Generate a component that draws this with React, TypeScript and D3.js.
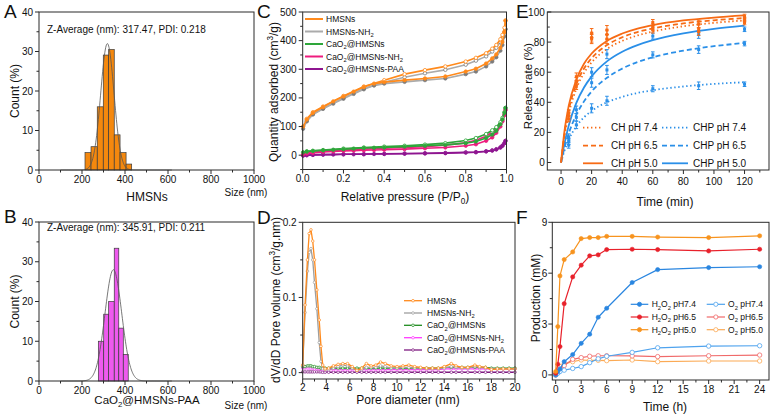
import React, { useEffect, useRef } from "react";
import * as d3 from "d3";

const FONT = "'Liberation Sans', Arial, Helvetica, sans-serif";
const AXIS = "#2a2a2a";

// ---------------- A: DLS of HMSNs ----------------
const aEdges = [214, 242, 271, 299, 324, 350, 377, 405, 431];
const aCounts = [4.4, 5.9, 16, 29.1, 30.5, 8.9, 4.4, 1.5];
const aFit = [32, 318, 31]; // amplitude, mean, sd
const aText = "Z-Average (nm): 317.47, PDI: 0.218";
const aName = "HMSNs";
// ---------------- B: DLS of CaO2@HMSNs-PAA ----------------
const bEdges = [276, 301, 324, 350, 371, 392, 415];
const bCounts = [10, 16.8, 20, 33.4, 13.3, 6.7];
const bFit = [28, 346, 39];
const bText = "Z-Average (nm): 345.91, PDI: 0.211";
const bName = "CaO_2@HMSNs-PAA";
const sizeTicks = [0, 200, 400, 600, 800, 1000];
const countTicks = [0, 10, 20, 30, 40];

// ---------------- C: N2 isotherms ----------------
const cNames = ["HMSNs", "HMSNs-NH_2", "CaO_2@HMSNs", "CaO_2@HMSNs-NH_2", "CaO_2@HMSNs-PAA"];
const cLineColors = ["#FF8A1C", "#ABABAB", "#2EA63A", "#EE1C7E", "#8E1590"];
const cMarkColors = ["#FF8A1C", "#7C7C7C", "#2EA63A", "#EE1C7E", "#8E1590"];
const cPads = [0.002, 0.02, 0.05, 0.1, 0.15, 0.2, 0.25, 0.3, 0.35, 0.4, 0.5, 0.6, 0.7, 0.8, 0.85, 0.9, 0.93, 0.95, 0.97, 0.98, 0.99, 0.995];
const cPdes = [0.995, 0.99, 0.98, 0.97, 0.95, 0.93, 0.9, 0.85, 0.8, 0.7, 0.6, 0.5, 0.4, 0.3, 0.2, 0.1, 0.05, 0.02];
const cAdsHMSNs = [100, 125, 148, 168, 188, 205, 222, 238, 250, 255, 262, 268, 275, 292, 302, 320, 338, 352, 375, 395, 430, 470];
const cDesHMSNs = [470, 445, 420, 405, 385, 372, 356, 340, 327, 310, 297, 283, 262, 240, 207, 170, 150, 127];
const cAdsNH2 = [92, 118, 142, 162, 180, 197, 214, 230, 243, 250, 256, 262, 268, 283, 292, 310, 327, 342, 365, 385, 415, 440];
const cDesNH2 = [440, 430, 410, 395, 375, 362, 345, 330, 316, 298, 286, 272, 255, 233, 200, 163, 144, 120];
const cAdsCa = [10, 13, 15, 17, 19, 21, 23, 25, 26, 27, 30, 33, 36, 42, 48, 60, 72, 85, 108, 125, 148, 165];
const cDesCa = [165, 150, 130, 115, 98, 87, 74, 60, 51, 42, 37, 33, 30, 27, 23, 18, 15, 13];
const cAdsCaNH2 = [3, 6, 8, 11, 13, 15, 16, 17, 18, 19, 21, 24, 27, 33, 38, 50, 62, 78, 100, 118, 140, 158];
const cDesCaNH2 = [158, 142, 122, 108, 92, 80, 66, 52, 43, 35, 30, 27, 24, 21, 18, 14, 10, 7];
const cAdsPAA = [-2, 0, 1, 2, 2, 3, 3, 3, 4, 4, 5, 6, 7, 9, 10, 13, 16, 20, 27, 33, 42, 50];
const cDesPAA = [50, 42, 33, 27, 21, 17, 14, 11, 10, 8, 7, 6, 5, 4, 3, 2, 1, 0];
const cXTicks = [0, 0.2, 0.4, 0.6, 0.8, 1.0];
const cYTicks = [0, 100, 200, 300, 400, 500];

// ---------------- D: pore size distribution ----------------
const dNames = cNames;
const dColors = ["#FF8A1C", "#9E9E9E", "#1E8C1E", "#FF3CFF", "#7E1A80"];
const dPore = [2.0, 2.2, 2.4, 2.55, 2.7, 2.85, 3.0, 3.2, 3.4, 3.55, 3.7, 3.9, 4.2, 4.6, 5.0, 5.4, 5.8, 6.2, 6.6, 7.0, 7.4, 7.8, 8.2, 8.6, 9.0, 9.5, 10.0, 10.5, 11.0, 11.5, 12.0, 12.5, 13.0, 13.5, 14.0, 14.6, 15.0, 15.5, 16.0, 16.6, 17.0, 17.5, 18.0, 18.5, 19.0, 19.5, 20.0];
const dHMSNs = [0.01, 0.09, 0.15, 0.185, 0.19, 0.175, 0.15, 0.11, 0.07, 0.035, 0.01, 0.005, 0.006, 0.009, 0.011, 0.012, 0.012, 0.008, 0.003, 0.006, 0.012, 0.009, 0.01, 0.014, 0.012, 0.009, 0.008, 0.009, 0.01, 0.008, 0.007, 0.006, 0.006, 0.006, 0.008, 0.012, 0.009, 0.007, 0.007, 0.01, 0.008, 0.007, 0.004, 0.005, 0.005, 0.005, 0.005];
const dNH2 = [0.01, 0.08, 0.135, 0.16, 0.165, 0.15, 0.12, 0.085, 0.04, 0.015, 0.005, 0.004, 0.004, 0.006, 0.008, 0.01, 0.009, 0.006, 0.003, 0.004, 0.007, 0.007, 0.007, 0.009, 0.008, 0.006, 0.006, 0.007, 0.007, 0.006, 0.006, 0.005, 0.005, 0.005, 0.006, 0.008, 0.007, 0.006, 0.006, 0.008, 0.007, 0.006, 0.005, 0.005, 0.005, 0.005, 0.005];
const dCa = [0.008, 0.008, 0.009, 0.009, 0.009, 0.008, 0.008, 0.007, 0.007, 0.006, 0.006, 0.006, 0.006, 0.006, 0.006, 0.006, 0.006, 0.006, 0.006, 0.006, 0.006, 0.006, 0.006, 0.006, 0.006, 0.006, 0.006, 0.006, 0.006, 0.006, 0.006, 0.006, 0.006, 0.006, 0.007, 0.007, 0.007, 0.007, 0.007, 0.007, 0.007, 0.007, 0.006, 0.006, 0.006, 0.006, 0.006];
const dCaNH2 = [0.006, 0.006, 0.006, 0.006, 0.006, 0.006, 0.005, 0.005, 0.005, 0.005, 0.004, 0.004, 0.004, 0.004, 0.004, 0.004, 0.004, 0.004, 0.004, 0.004, 0.004, 0.004, 0.004, 0.004, 0.004, 0.004, 0.004, 0.004, 0.004, 0.004, 0.004, 0.004, 0.004, 0.004, 0.005, 0.005, 0.005, 0.005, 0.005, 0.005, 0.005, 0.005, 0.005, 0.005, 0.005, 0.005, 0.005];
const dPAA = [0.001, 0.001, 0.001, 0.001, 0.001, 0.001, 0.001, 0.001, 0.001, 0.001, 0.0005, 0.0005, 0.0005, 0.0005, 0.0005, 0.0005, 0.0005, 0.0005, 0.0005, 0.0005, 0.0005, 0.0005, 0.0005, 0.0005, 0.0005, 0.0005, 0.0005, 0.0005, 0.0005, 0.0005, 0.0005, 0.0005, 0.0005, 0.0005, 0.0005, 0.0005, 0.0005, 0.0005, 0.0005, 0.0005, 0.0005, 0.0005, 0.0005, 0.0005, 0.0005, 0.0005, 0.0005];
const dXTicks = [2, 4, 6, 8, 10, 12, 14, 16, 18, 20];
const dYTicks = [0, 0.1, 0.2];

// ---------------- E: release ----------------
const eNames = ["CH pH 7.4", "CH pH 6.5", "CH pH 5.0", "CHP pH 7.4", "CHP pH 6.5", "CHP pH 5.0"];
const eTimes = [5, 10, 20, 30, 60, 90, 120];
const eCH74 = [29, 51, 82, 82, 88, 87, 93];
const eCH65 = [31, 54, 83, 85, 90, 89, 95];
const eCH50 = [33, 57, 86, 88, 93, 92, 97];
const eCHP74 = [11.5, 25, 36, 41, 49, 51, 52];
const eCHP65 = [14, 30, 53, 61.5, 71.5, 75, 79];
const eCHP50 = [17, 35, 60, 72, 84, 85, 88.5];
const eErr = [2, 2.5, 3, 3, 2, 2.5, 1.5];
const eFitT = [0, 2, 5, 10, 15, 20, 30, 40, 50, 60, 80, 100, 120];
const eFitCH74 = [0, 15.8, 32, 49, 59.4, 66.5, 75.4, 80.8, 84.4, 87, 90.5, 92.8, 94.4];
const eFitCH65 = [0, 17.3, 34.7, 52, 62.4, 69.3, 78, 83.2, 86.7, 89.1, 92.4, 94.5, 96];
const eFitCH50 = [0, 19, 37.5, 55, 65.6, 72.4, 80.8, 85.7, 89, 91.3, 94.4, 96.3, 97.7];
const eFitCHP74 = [0, 7.1, 15, 24, 30, 34.3, 40, 43.6, 46.2, 48, 50.5, 52.2, 53.3];
const eFitCHP65 = [0, 8.8, 19.2, 31.7, 40.6, 47.2, 56.3, 62.4, 66.7, 69.9, 74.3, 77.3, 79.4];
const eFitCHP50 = [0, 11.4, 24.5, 39.6, 49.8, 57.2, 67.2, 73.6, 78, 81.3, 85.8, 88.8, 90.9];
const eXTicks = [0, 20, 40, 60, 80, 100, 120];
const eYTicks = [0, 20, 40, 60, 80, 100];

// ---------------- F: production ----------------
const fNames = ["H_2O_2 pH7.4", "H_2O_2 pH6.5", "H_2O_2 pH5.0", "O_2 pH7.4", "O_2 pH6.5", "O_2 pH5.0"];
const fT = [0, 0.25, 0.5, 1, 2, 3, 4, 5, 6, 9, 12, 18, 24];
const fH74 = [0, 0.2, 0.35, 0.78, 1.2, 1.86, 2.4, 3.4, 3.93, 5.45, 6.21, 6.33, 6.38];
const fH65 = [0.1, 0.63, 1.67, 4.2, 5.78, 6.47, 7.02, 7.08, 7.39, 7.41, 7.39, 7.31, 7.41];
const fH50 = [0.2, 2.85, 5.84, 6.8, 7.25, 8.04, 8.1, 8.1, 8.17, 8.17, 8.13, 8.1, 8.2];
const fO74 = [0, 0.1, 0.2, 0.28, 0.38, 0.49, 0.72, 0.95, 1.1, 1.33, 1.6, 1.7, 1.72];
const fO65 = [0, 0.2, 0.35, 0.55, 0.92, 1.02, 1.1, 1.13, 1.13, 1.12, 1.08, 1.13, 1.17];
const fO50 = [0, 0.3, 0.5, 0.65, 0.78, 0.88, 0.86, 0.86, 0.84, 0.88, 0.78, 0.82, 0.82];
const fXTicks = [0, 3, 6, 9, 12, 15, 18, 21, 24];
const fYTicks = [0, 3, 6, 9];

// ---------------- helpers ----------------
function rich(t: any, str: string, size: number) {
  const re = /([_^])(\{[^}]*\}|.)/g;
  let last = 0;
  let back = 0;
  let m: RegExpExecArray | null;
  const add = (s: string, dy: number, fs?: number) => {
    const ts = t.append("tspan").text(s);
    if (dy) ts.attr("dy", dy);
    if (fs) ts.attr("font-size", fs);
  };
  while ((m = re.exec(str))) {
    if (m.index > last) {
      add(str.slice(last, m.index), back);
      back = 0;
    }
    const c = m[2][0] === "{" ? m[2].slice(1, -1) : m[2];
    const d = m[1] === "_" ? size * 0.28 : -size * 0.38;
    add(c, d + back, size * 0.68);
    back = -d;
    last = re.lastIndex;
  }
  if (last < str.length) add(str.slice(last), back);
}

function label(g: any, x: number, y: number, str: string, size: number, anchor = "start", rotate = false) {
  const t = g
    .append("text")
    .attr("font-size", size)
    .attr("text-anchor", anchor)
    .attr("fill", "#111");
  if (rotate) t.attr("transform", `translate(${x},${y}) rotate(-90)`);
  else t.attr("x", x).attr("y", y);
  rich(t, str, size);
  return t;
}

type AxOpt = {
  xt: number[];
  xm?: number[];
  yt: number[];
  ym?: number[];
  xf?: (v: number) => string;
  yf?: (v: number) => string;
  xLab?: number;
  yLab?: number;
  yIn?: boolean;
};

function axisBox(g: any, x: any, y: any, o: AxOpt) {
  const [x0, x1] = x.range();
  const [y0, y1] = y.range();
  const fx = o.xf || ((v: number) => String(v));
  const fy = o.yf || ((v: number) => String(v));
  const tk = (a: number, b: number, c: number, d: number) =>
    g.append("line").attr("x1", a).attr("y1", b).attr("x2", c).attr("y2", d).attr("stroke", AXIS).attr("stroke-width", 1);
  (o.xm || []).forEach((v) => tk(x(v), y0, x(v), y0 + 2.5));
  o.xt.forEach((v) => {
    tk(x(v), y0, x(v), y0 + 4);
    g.append("text")
      .attr("x", x(v))
      .attr("y", y0 + (o.xLab ?? 12.5))
      .attr("text-anchor", "middle")
      .attr("font-size", 10)
      .attr("fill", "#111")
      .text(fx(v));
  });
  const s = o.yIn ? -1 : 1;
  (o.ym || []).forEach((v) => tk(x0 - 2.5 * s, y(v), x0, y(v)));
  o.yt.forEach((v) => {
    tk(x0 - 4 * s, y(v), x0, y(v));
    g.append("text")
      .attr("x", x0 - (o.yLab ?? 6))
      .attr("y", y(v))
      .attr("dy", "0.35em")
      .attr("text-anchor", "end")
      .attr("font-size", 10)
      .attr("fill", "#111")
      .text(fy(v));
  });
  g.append("rect")
    .attr("x", x0)
    .attr("y", y1)
    .attr("width", x1 - x0)
    .attr("height", y0 - y1)
    .attr("fill", "none")
    .attr("stroke", AXIS)
    .attr("stroke-width", 1);
}

function drawHist(
  g: any,
  top: number,
  bottom: number,
  edges: number[],
  counts: number[],
  fill: string,
  fit: number[],
  text: string,
  textY: number,
  name: string,
  nameY: number,
  nameSize: number,
  sizeY: number,
  letter: string,
  letterY: number
) {
  const x = d3.scaleLinear().domain([0, 1000]).range([39, 254]);
  const y = d3.scaleLinear().domain([0, 40]).range([bottom, top]);
  counts.forEach((c, i) => {
    g.append("rect")
      .attr("x", x(edges[i]))
      .attr("width", x(edges[i + 1]) - x(edges[i]))
      .attr("y", y(c))
      .attr("height", y(0) - y(c))
      .attr("fill", fill)
      .attr("stroke", "#3a3a3a")
      .attr("stroke-width", 0.7);
  });
  const [amp, mu, sd] = fit;
  const pts = d3.range(100, 620, 2).map((s) => [s, amp * Math.exp(-((s - mu) ** 2) / (2 * sd * sd))]);
  g.append("path")
    .attr("d", d3.line().x((d: any) => x(d[0])).y((d: any) => y(d[1]))(pts as any))
    .attr("fill", "none")
    .attr("stroke", "#555")
    .attr("stroke-width", 0.8);
  axisBox(g, x, y, {
    xt: sizeTicks,
    xm: [100, 300, 500, 700, 900],
    yt: countTicks,
    ym: [5, 15, 25, 35],
  });
  label(g, 47, textY, text, 10);
  label(g, 147, nameY, name, nameSize, "middle");
  label(g, 246, sizeY, "Size (nm)", 10, "middle");
  label(g, 19, (top + bottom) / 2, "Count (%)", 12, "middle", true);
  g.append("text").attr("x", 4).attr("y", letterY).attr("font-size", 19).attr("fill", "#111").text(letter);
}

function circles(g: any, pts: number[][], x: any, y: any, r: number, stroke: string, fill: string, sw = 0.8) {
  pts.forEach((p) =>
    g.append("circle").attr("cx", x(p[0])).attr("cy", y(p[1])).attr("r", r).attr("fill", fill).attr("stroke", stroke).attr("stroke-width", sw)
  );
}

function path(g: any, pts: number[][], x: any, y: any, color: string, width: number, dash?: string, curve?: any) {
  const ln = d3.line().x((d: any) => x(d[0])).y((d: any) => y(d[1]));
  if (curve) ln.curve(curve);
  const p = g
    .append("path")
    .attr("d", ln(pts as any))
    .attr("fill", "none")
    .attr("stroke", color)
    .attr("stroke-width", width)
    .attr("stroke-linejoin", "round");
  if (dash) p.attr("stroke-dasharray", dash);
}

function draw(svgEl: SVGSVGElement) {
  const svg = d3.select(svgEl);
  svg.selectAll("*").remove();
  svg.append("rect").attr("width", 772).attr("height", 419).attr("fill", "#fff");
  const root = svg.append("g").attr("font-family", FONT);

  // ---- A & B
  drawHist(root.append("g"), 12, 170, aEdges, aCounts, "#F4880E", aFit, aText, 32.5, aName, 201, 12, 195.5, "A", 18);
  drawHist(root.append("g"), 222, 381, bEdges, bCounts, "#EE5AEE", bFit, bText, 231, bName, 404, 11.5, 409, "B", 223);

  // ---- C
  {
    const g = root.append("g");
    const x = d3.scaleLinear().domain([0, 1]).range([302.7, 506.5]);
    const y = d3.scaleLinear().domain([-50, 500]).range([169.5, 12]);
    const ads = [cAdsHMSNs, cAdsNH2, cAdsCa, cAdsCaNH2, cAdsPAA];
    const des = [cDesHMSNs, cDesNH2, cDesCa, cDesCaNH2, cDesPAA];
    const order = [4, 3, 2, 1, 0];
    order.forEach((i) => {
      const a = cPads.map((p, k) => [p, ads[i][k]]);
      const d = cPdes.map((p, k) => [p, des[i][k]]);
      path(g, d, x, y, cLineColors[i], 1.6);
      path(g, a, x, y, cLineColors[i], 1.6);
      circles(g, d, x, y, 1.7, cMarkColors[i], "#fff", 0.8);
      circles(g, a, x, y, 1.7, cMarkColors[i], cMarkColors[i], 0.8);
    });
    axisBox(g, x, y, {
      xt: cXTicks,
      xm: [0.1, 0.3, 0.5, 0.7, 0.9],
      yt: cYTicks,
      ym: [-50, 50, 150, 250, 350, 450],
      xf: (v) => v.toFixed(1),
    });
    const ly = [19, 31.5, 44, 56.5, 69];
    cNames.forEach((n, i) => {
      g.append("line").attr("x1", 305).attr("x2", 323).attr("y1", ly[i]).attr("y2", ly[i]).attr("stroke", cLineColors[i]).attr("stroke-width", 2);
      label(g, 326, ly[i] + 3, n, 8.5);
    });
    label(g, 278, 92, "Quantity adsorbed (cm^3/g)", 12, "middle", true);
    label(g, 405, 201, "Relative pressure (P/P_0)", 12, "middle");
    g.append("text").attr("x", 257).attr("y", 18).attr("font-size", 19).attr("fill", "#111").text("C");
  }

  // ---- D
  {
    const g = root.append("g");
    const x = d3.scaleLinear().domain([2, 20]).range([302.7, 515]);
    const y = d3.scaleLinear().domain([-0.0085, 0.2]).range([379, 222.3]);
    const series = [dHMSNs, dNH2, dCa, dCaNH2, dPAA];
    [4, 3, 2, 1, 0].forEach((i) => {
      const pts = dPore.map((p, k) => [p, series[i][k]]);
      path(g, pts, x, y, dColors[i], 1.3);
      circles(g, pts, x, y, 1.3, dColors[i], "#fff", 0.7);
    });
    axisBox(g, x, y, {
      xt: dXTicks,
      xm: [3, 5, 7, 9, 11, 13, 15, 17, 19],
      yt: dYTicks,
      ym: [0.05, 0.15],
      yf: (v) => v.toFixed(1),
      xLab: 12,
    });
    const ly = [300.7, 313, 325.3, 337.7, 350];
    dNames.forEach((n, i) => {
      g.append("line").attr("x1", 404).attr("x2", 422).attr("y1", ly[i]).attr("y2", ly[i]).attr("stroke", dColors[i]).attr("stroke-width", 1.3);
      g.append("circle").attr("cx", 413).attr("cy", ly[i]).attr("r", 1.3).attr("fill", "#fff").attr("stroke", dColors[i]).attr("stroke-width", 0.7);
      label(g, 427, ly[i] + 3, n, 8.5);
    });
    label(g, 280, 300, "dV/dD Pore volume (cm^3/g.nm)", 12, "middle", true);
    label(g, 408, 403.5, "Pore diameter (nm)", 12, "middle");
    g.append("text").attr("x", 257).attr("y", 224).attr("font-size", 19).attr("fill", "#111").text("D");
  }

  // ---- E
  {
    const g = root.append("g");
    const x = d3.scaleLinear().domain([-9, 136]).range([547.3, 769]);
    const y = d3.scaleLinear().domain([-5, 100]).range([170, 12]);
    const OR = "#F76B15";
    const BL = "#2A8FE8";
    const colors = [OR, OR, OR, BL, BL, BL];
    const dashes = ["1.4,2.6", "5,3", undefined, "1.4,2.6", "5,3", undefined];
    const fits = [eFitCH74, eFitCH65, eFitCH50, eFitCHP74, eFitCHP65, eFitCHP50];
    const data = [eCH74, eCH65, eCH50, eCHP74, eCHP65, eCHP50];
    [3, 4, 5, 0, 1, 2].forEach((i) => {
      path(g, eFitT.map((t, k) => [t, fits[i][k]]), x, y, colors[i], 1.8, dashes[i], d3.curveMonotoneX);
    });
    [3, 4, 5, 0, 1, 2].forEach((i) => {
      eTimes.forEach((t, k) => {
        const v = data[i][k];
        const e = eErr[k];
        const cx = x(t);
        g.append("line").attr("x1", cx).attr("x2", cx).attr("y1", y(v - e)).attr("y2", y(v + e)).attr("stroke", colors[i]).attr("stroke-width", 1);
        [v - e, v + e].forEach((w) =>
          g.append("line").attr("x1", cx - 1.8).attr("x2", cx + 1.8).attr("y1", y(w)).attr("y2", y(w)).attr("stroke", colors[i]).attr("stroke-width", 1)
        );
        g.append("rect").attr("x", cx - 1.5).attr("y", y(v) - 1.5).attr("width", 3).attr("height", 3).attr("fill", colors[i]);
      });
    });
    axisBox(g, x, y, {
      xt: eXTicks,
      xm: [10, 30, 50, 70, 90, 110, 130],
      yt: eYTicks,
      ym: [10, 30, 50, 70, 90],
      xLab: 15,
      yLab: 2.5,
      yIn: true,
    });
    const ly = [127.7, 145.7, 163.3];
    eNames.forEach((n, i) => {
      const col = i < 3 ? 0 : 1;
      const r = i % 3;
      const x1 = col === 0 ? 583 : 662;
      const x2 = col === 0 ? 603 : 688;
      const tx = col === 0 ? 611 : 693;
      const l = g.append("line").attr("x1", x1).attr("x2", x2).attr("y1", ly[r]).attr("y2", ly[r]).attr("stroke", colors[i]).attr("stroke-width", 1.8);
      if (dashes[i]) l.attr("stroke-dasharray", dashes[i]);
      label(g, tx, ly[r] + 3.6, n, 10);
    });
    label(g, 532, 86, "Release rate (%)", 11.5, "middle", true);
    label(g, 665, 205.5, "Time (min)", 12, "middle");
    g.append("text").attr("x", 516).attr("y", 18).attr("font-size", 19).attr("fill", "#111").text("E");
  }

  // ---- F
  {
    const g = root.append("g");
    const x = d3.scaleLinear().domain([-0.4, 25.1]).range([552.3, 769]);
    const y = d3.scaleLinear().domain([-0.3, 9]).range([380, 222.3]);
    const lineCols = ["#2A86E0", "#E8212B", "#F7931E", "#4FA3EE", "#F06A6A", "#FBAA55"];
    const series = [fH74, fH65, fH50, fO74, fO65, fO50];
    [5, 4, 3, 0, 1, 2].forEach((i) => {
      const pts = fT.map((t, k) => [t, series[i][k]]);
      path(g, pts, x, y, lineCols[i], 1.2);
      if (i < 3) circles(g, pts, x, y, 2.1, lineCols[i], lineCols[i], 0.6);
      else circles(g, pts, x, y, 2.2, lineCols[i], "#fff", 0.8);
    });
    axisBox(g, x, y, {
      xt: fXTicks,
      xm: [1.5, 4.5, 7.5, 10.5, 13.5, 16.5, 19.5, 22.5],
      yt: fYTicks,
      ym: [1.5, 4.5, 7.5],
      xLab: 12.5,
      yLab: 5,
    });
    const ly = [304.3, 317, 329.7];
    fNames.forEach((n, i) => {
      const col = i < 3 ? 0 : 1;
      const r = i % 3;
      const x1 = col === 0 ? 630.7 : 706.7;
      const x2 = col === 0 ? 648.3 : 725;
      const tx = col === 0 ? 651.7 : 728;
      g.append("line").attr("x1", x1).attr("x2", x2).attr("y1", ly[r]).attr("y2", ly[r]).attr("stroke", lineCols[i]).attr("stroke-width", 1.2);
      g.append("circle")
        .attr("cx", (x1 + x2) / 2)
        .attr("cy", ly[r])
        .attr("r", 2.1)
        .attr("fill", col === 0 ? lineCols[i] : "#fff")
        .attr("stroke", lineCols[i])
        .attr("stroke-width", 0.8);
      label(g, tx, ly[r] + 3, n, 8.5);
    });
    label(g, 540, 298, "Production (mM)", 12, "middle", true);
    label(g, 665, 411, "Time (h)", 12, "middle");
    g.append("text").attr("x", 516).attr("y", 224).attr("font-size", 19).attr("fill", "#111").text("F");
  }
}

export default function App() {
  const ref = useRef<SVGSVGElement>(null);
  useEffect(() => {
    if (ref.current) draw(ref.current);
  }, []);
  return (
    <svg
      ref={ref}
      width={772}
      height={419}
      style={{ position: "absolute", left: 0, top: 0, background: "#fff" }}
    />
  );
}
